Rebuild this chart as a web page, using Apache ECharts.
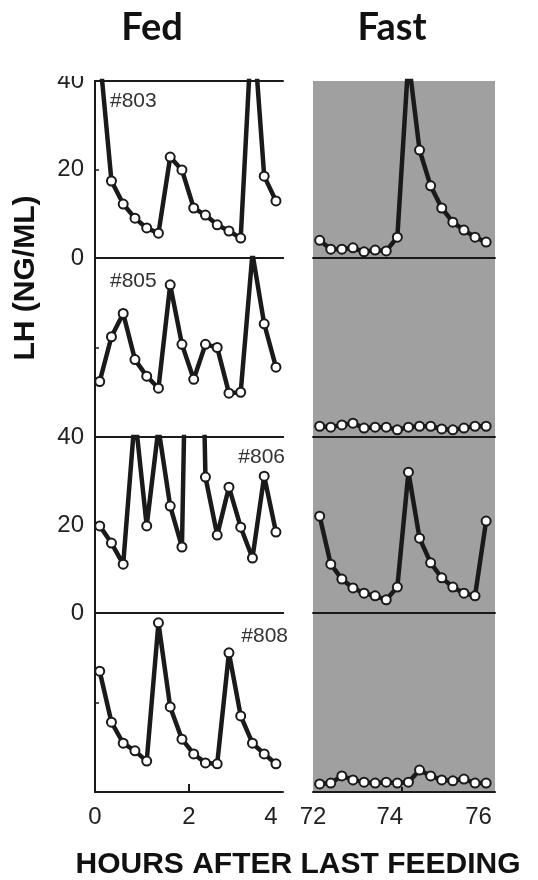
<!DOCTYPE html>
<html>
<head>
<meta charset="utf-8">
<script src="https://cdn.jsdelivr.net/npm/echarts@6/dist/echarts.min.js"></script>
<style>
  html, body { margin: 0; padding: 0; background: #fff; }
  #chart { width: 538px; height: 880px; }
</style>
</head>
<body>
<div id="chart"></div>
<script>
// sample times (hours after last feeding)
const fedTimes = [0.1, 0.35, 0.6, 0.85, 1.1, 1.35, 1.6, 1.85, 2.1, 2.35, 2.6, 2.85, 3.1, 3.35, 3.6, 3.85]
const fastTimes = [72.15, 72.4, 72.65, 72.9, 73.15, 73.4, 73.65, 73.9, 74.15, 74.4, 74.65, 74.9, 75.15, 75.4, 75.65, 75.9]

// LH values, ng/ml (values above 40 run off the panel)
const fed803 = [46, 17.4, 12.2, 9.0, 6.8, 5.6, 22.8, 19.9, 11.3, 9.7, 7.5, 6.1, 4.5, 55, 18.5, 12.9]
const fast803 = [4.0, 2.0, 2.0, 2.3, 1.4, 1.8, 1.6, 4.7, 45, 24.4, 16.3, 11.3, 8.1, 6.3, 4.7, 3.6]
const fed805 = [12.4, 22.4, 27.6, 17.3, 13.6, 10.9, 34.0, 20.7, 12.9, 20.7, 20.0, 9.8, 10.0, 41, 25.3, 15.6]
const fast805 = [2.4, 2.2, 2.7, 3.1, 2.0, 2.2, 2.2, 1.6, 2.2, 2.4, 2.4, 1.8, 1.6, 2.0, 2.4, 2.4]
const fed806 = [19.8, 15.9, 11.1, 45, 19.8, 42, 24.3, 15.0, 160, 30.9, 17.7, 28.6, 19.5, 12.5, 31.1, 18.4]
const fast806 = [22.0, 11.1, 7.7, 5.7, 4.5, 3.9, 3.0, 5.9, 32.0, 17.0, 11.4, 8.0, 5.9, 4.5, 3.9, 20.9]
const fed808 = [27.0, 15.6, 10.9, 9.2, 6.9, 37.8, 19.0, 11.8, 8.5, 6.5, 6.3, 31.1, 17.0, 10.9, 8.5, 6.3]
const fast808 = [1.8, 2.0, 3.6, 2.7, 2.2, 2.0, 2.2, 2.0, 2.2, 4.9, 3.6, 2.7, 2.5, 2.9, 2.0, 2.0]

const animals = ['#803', '#805', '#806', '#808']
const fedRows = [fed803, fed805, fed806, fed808]
const fastRows = [fast803, fast805, fast806, fast808]
const yTicks = [0, 20, 40]
const fedXTicks = [0, 2, 4]
const fastXTicks = [72, 74, 76]

const rowTop = [81, 258, 437, 613]
const rowH = [177, 179, 176, 179]
const ink = '#1a1a1a'

const chart = echarts.init(document.getElementById('chart'))

const grid = [], xAxis = [], yAxis = [], series = []
const zip = (ts, vs) => ts.map((t, i) => [t, vs[i]])
const rich = { c: {}, p: { padding: [0, 24, 0, 0] } }
const labelFont = { fontSize: 24, color: '#222', fontFamily: 'Liberation Sans, Arial, sans-serif' }

for (let r = 0; r < 4; r++) {
    const last = r === 3
    const labelled = r === 0 || r === 2
    // fed panel
    grid.push({ left: 95, top: rowTop[r], width: 188, height: rowH[r] })
    // fast panel, grey background
    grid.push({ left: 313, top: rowTop[r], width: 182, height: rowH[r],
        show: true, backgroundColor: '#a0a0a0', borderWidth: 0 })

    xAxis.push(Object.assign({
        gridIndex: r * 2, type: 'value', min: 0, max: 4,
        axisLine: { show: true, lineStyle: { color: ink, width: 2 } },
        axisTick: { show: last, inside: true, length: 8, customValues: [2], lineStyle: { color: ink, width: 2 } },
        axisLabel: Object.assign({ show: last, customValues: fedXTicks, margin: 13,
            formatter: v => v === 4 ? '{p|' + v + '}' : '{c|' + v + '}', rich }, labelFont),
        splitLine: { show: false }
    }))
    xAxis.push({
        gridIndex: r * 2 + 1, type: 'value', min: 72, max: 76.1,
        axisLine: { show: true, lineStyle: { color: ink, width: 2 } },
        axisTick: { show: last, inside: true, length: 5, customValues: [74], lineStyle: { color: ink, width: 2 } },
        axisLabel: Object.assign({ show: last, customValues: fastXTicks, margin: 13,
            formatter: v => v === 72 ? '{c|' + v + '}' : '{p|' + v + '}', rich }, labelFont),
        splitLine: { show: false }
    })
    // top border line of each fed panel
    xAxis.push({
        gridIndex: r * 2, type: 'value', min: 0, max: 4, position: 'top',
        axisLine: { show: true, lineStyle: { color: ink, width: 2 } },
        axisTick: { show: false }, axisLabel: { show: false }, splitLine: { show: false }
    })
    yAxis.push({
        gridIndex: r * 2, type: 'value', min: 0, max: 40, interval: 20,
        axisLine: { show: true, lineStyle: { color: ink, width: 2 } },
        axisTick: { show: true, inside: true, length: 4, customValues: [20], lineStyle: { color: ink, width: 1.5 } },
        axisLabel: Object.assign({ show: labelled, customValues: yTicks, margin: 11 }, labelFont),
        splitLine: { show: false }
    })
    yAxis.push({
        gridIndex: r * 2 + 1, type: 'value', min: 0, max: 40, show: false
    })

    const lineStyle = { color: ink, width: 4.5 }
    const itemStyle = { color: '#fff', borderColor: ink, borderWidth: 2 }
    series.push({
        type: 'line', name: animals[r] + ' fed', xAxisIndex: r * 3, yAxisIndex: r * 2,
        data: zip(fedTimes, fedRows[r]), symbol: 'circle', symbolSize: 9,
        lineStyle, itemStyle, clip: true, animation: false
    })
    series.push({
        type: 'line', name: animals[r] + ' fast', xAxisIndex: r * 3 + 1, yAxisIndex: r * 2 + 1,
        data: zip(fastTimes, fastRows[r]), symbol: 'circle', symbolSize: 9,
        lineStyle, itemStyle, clip: true, animation: false
    })
}

const txt = (x, y, text, font, extra) => ({
    type: 'text', x, y, z: 100,
    style: Object.assign({ text, font, fill: '#111', textAlign: 'center', textVerticalAlign: 'middle' }, extra || {})
})

chart.setOption({
    animation: false,
    grid, xAxis, yAxis, series,
    graphic: [
        // top of the "40" label is cut off in the figure
        { type: 'rect', z: 100, shape: { x: 30, y: 0, width: 63, height: 76 }, style: { fill: '#fff' } },
        txt(152, 28, 'Fed', 'bold 38px Lato, "Open Sans", sans-serif'),
        txt(392, 28, 'Fast', 'bold 38px Lato, "Open Sans", sans-serif'),
        { type: 'text', x: 26, y: 278, rotation: Math.PI / 2, z: 100,
          style: { text: 'LH (NG/ML)', font: 'bold 30px "Liberation Sans", Arial, sans-serif', fill: '#111',
                   textAlign: 'center', textVerticalAlign: 'middle' } },
        txt(298, 865, 'HOURS AFTER LAST FEEDING', 'bold 30px "Liberation Sans", Arial, sans-serif'),
        txt(110, 101, animals[0], '21px "Liberation Sans", Arial, sans-serif', { textAlign: 'left', fill: '#333' }),
        txt(110, 281, animals[1], '21px "Liberation Sans", Arial, sans-serif', { textAlign: 'left', fill: '#333' }),
        txt(285, 457, animals[2], '21px "Liberation Sans", Arial, sans-serif', { textAlign: 'right', fill: '#333' }),
        txt(288, 636, animals[3], '21px "Liberation Sans", Arial, sans-serif', { textAlign: 'right', fill: '#333' })
    ]
})
</script>
</body>
</html>
